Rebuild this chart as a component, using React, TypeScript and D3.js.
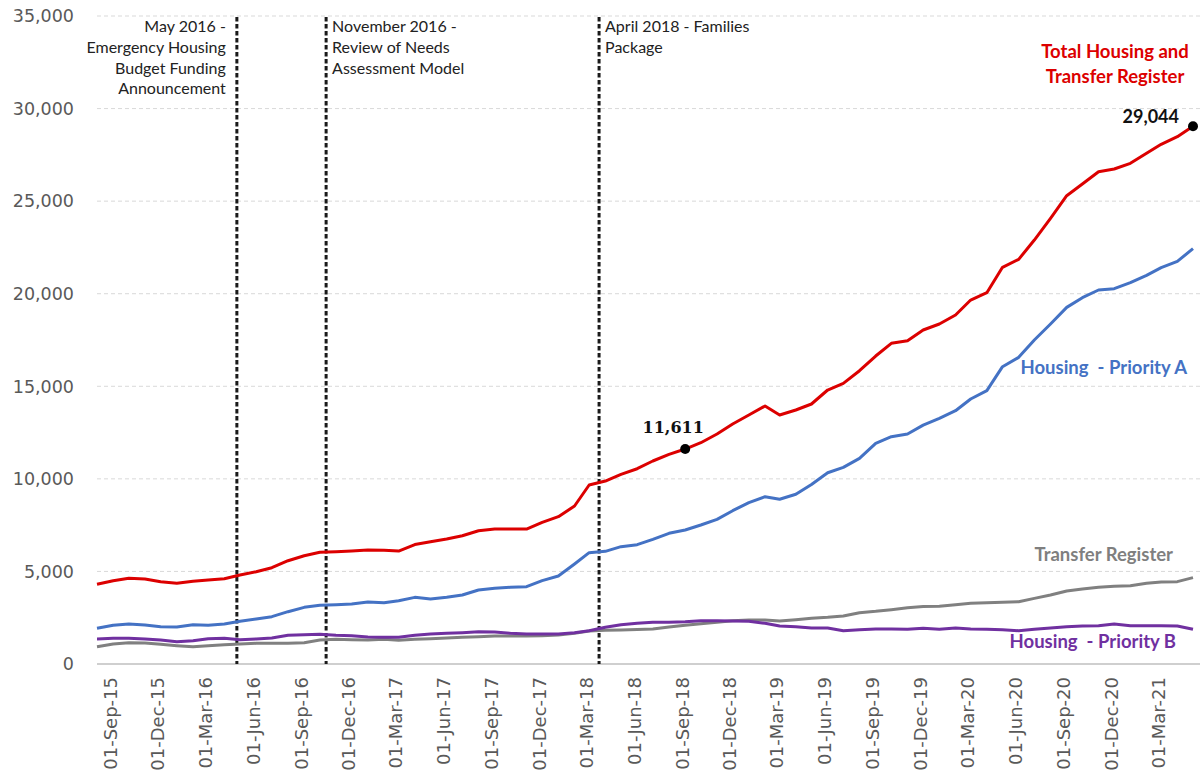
import React from "react";
import * as d3 from "d3";

const W = 1204;
const H = 780;

// monthly observations, Aug 2015 .. May 2021
const firstMonth = new Date(2015, 7, 1);
const lastMonth = new Date(2021, 4, 1);

const totalRegister = [4304, 4500, 4628, 4590, 4446, 4358, 4466, 4537, 4607, 4807, 4985, 5201, 5579, 5849, 6031, 6066, 6102, 6157, 6150, 6100, 6450, 6606, 6751, 6930, 7200, 7291, 7291, 7291, 7653, 7956, 8533, 9668, 9884, 10245, 10548, 10964, 11325, 11611, 11953, 12423, 12963, 13449, 13935, 13449, 13719, 14043, 14799, 15160, 15841, 16635, 17321, 17461, 18039, 18363, 18849, 19659, 20055, 21425, 21857, 22900, 24071, 25293, 25925, 26591, 26735, 27043, 27583, 28069, 28480, 29044];
const priorityA = [1928, 2090, 2160, 2106, 2016, 1998, 2124, 2090, 2160, 2304, 2430, 2556, 2826, 3060, 3168, 3204, 3240, 3348, 3312, 3420, 3600, 3510, 3600, 3727, 3997, 4087, 4141, 4177, 4501, 4753, 5401, 6013, 6085, 6337, 6445, 6734, 7058, 7237, 7507, 7815, 8280, 8712, 9036, 8896, 9166, 9700, 10332, 10622, 11108, 11918, 12275, 12423, 12900, 13268, 13681, 14313, 14763, 16059, 16563, 17500, 18363, 19263, 19785, 20200, 20272, 20596, 20992, 21406, 21749, 22433];
const transferRegister = [935, 1080, 1152, 1134, 1062, 990, 935, 990, 1044, 1080, 1116, 1116, 1116, 1152, 1296, 1332, 1314, 1296, 1332, 1278, 1332, 1368, 1404, 1440, 1476, 1512, 1512, 1512, 1530, 1566, 1656, 1780, 1820, 1840, 1860, 1890, 1998, 2088, 2178, 2250, 2340, 2376, 2376, 2322, 2394, 2466, 2520, 2592, 2772, 2844, 2934, 3042, 3100, 3114, 3204, 3276, 3312, 3330, 3366, 3546, 3727, 3943, 4051, 4141, 4195, 4231, 4357, 4429, 4447, 4663];
const priorityB = [1350, 1386, 1386, 1350, 1296, 1206, 1260, 1368, 1386, 1314, 1350, 1404, 1548, 1584, 1602, 1548, 1530, 1458, 1440, 1440, 1548, 1620, 1656, 1692, 1746, 1728, 1656, 1620, 1620, 1620, 1692, 1800, 1980, 2124, 2196, 2250, 2250, 2286, 2340, 2340, 2322, 2304, 2196, 2052, 2016, 1944, 1944, 1800, 1854, 1890, 1890, 1872, 1926, 1872, 1944, 1890, 1872, 1854, 1800, 1872, 1944, 2016, 2052, 2070, 2160, 2070, 2070, 2070, 2052, 1872];

const yTicks = [0, 5000, 10000, 15000, 20000, 25000, 30000, 35000];
const tickStart = new Date(2015, 8, 1);
const tickEnd = new Date(2021, 3, 1);

const events = [
  { date: new Date(2016, 3, 25), lines: ["May 2016 -", "Emergency Housing", "Budget Funding", "Announcement"], side: "left" },
  { date: new Date(2016, 9, 13), lines: ["November 2016 -", "Review of Needs", "Assessment Model"], side: "right" },
  { date: new Date(2018, 2, 20), lines: ["April 2018 - Families", "Package"], side: "right" },
];

const highlighted = [new Date(2018, 8, 1), new Date(2021, 4, 1)];

export default function App() {
  const months = d3.timeMonth.range(firstMonth, d3.timeMonth.offset(lastMonth, 1));
  const x = d3.scaleTime().domain([firstMonth, lastMonth]).range([97, 1193]);
  const y = d3.scaleLinear().domain([0, 35000]).range([664, 16]);
  const ticks = d3.timeMonth.range(tickStart, d3.timeMonth.offset(tickEnd, 1), 3);
  const fmt = d3.timeFormat("%d-%b-%y");
  const line = d3
    .line<number>()
    .x((_, i) => x(months[i]))
    .y((v) => y(v));

  const series = [
    { values: transferRegister, color: "#808080" },
    { values: priorityB, color: "#7030A0" },
    { values: priorityA, color: "#4472C4" },
    { values: totalRegister, color: "#DC0000" },
  ];

  const idx = (d: Date) => months.findIndex((m) => m.getTime() === d.getTime());
  const p1 = idx(highlighted[0]);
  const p2 = idx(highlighted[1]);

  return (
    <svg width={W} height={H} style={{ position: "absolute", left: 0, top: 0, background: "#fff" }}>
      {/* gridlines */}
      {yTicks.slice(1).map((t) => (
        <line key={t} x1={97} x2={1200} y1={y(t)} y2={y(t)} stroke="#d9d9d9" strokeWidth={1} strokeDasharray="4,3" />
      ))}
      {/* y axis labels */}
      {yTicks.map((t) => (
        <text key={t} x={74} y={y(t)} dy="0.36em" textAnchor="end" fontFamily="DejaVu Sans" fontSize={17.5} fill="#595959">
          {d3.format(",")(t)}
        </text>
      ))}
      {/* x axis */}
      <line x1={97} x2={1200} y1={y(0)} y2={y(0)} stroke="#bfbfbf" strokeWidth={1.5} />
      {ticks.map((t) => (
        <text
          key={t.getTime()}
          transform={`translate(${x(t) - 3},${y(0) + 13}) rotate(-90)`}
          dy="0.36em"
          textAnchor="end"
          fontFamily="DejaVu Sans"
          fontSize={18}
          fill="#595959"
        >
          {fmt(t)}
        </text>
      ))}
      {/* event lines */}
      {events.map((e, k) => {
        const ex = x(e.date);
        return (
          <g key={k}>
            <line x1={ex} x2={ex} y1={17} y2={y(0)} stroke="#1a1a1a" strokeWidth={3} strokeDasharray="4.5,2.5" />
            {e.lines.map((l, j) => (
              <text
                key={j}
                x={e.side === "left" ? ex - 11 : ex + 6}
                y={32 + j * 20.8}
                textAnchor={e.side === "left" ? "end" : "start"}
                fontFamily="Lato"
                fontSize={16}
                fill="#222"
              >
                {l}
              </text>
            ))}
          </g>
        );
      })}
      {/* series */}
      {series.map((s, k) => (
        <path key={k} d={line(s.values) || ""} fill="none" stroke={s.color} strokeWidth={3} strokeLinejoin="round" />
      ))}
      {/* highlighted points */}
      <circle cx={x(months[p1])} cy={y(totalRegister[p1])} r={5} fill="#000" />
      <circle cx={x(months[p2])} cy={y(totalRegister[p2])} r={5} fill="#000" />
      <text x={x(months[p1]) - 12} y={y(totalRegister[p1]) - 16} textAnchor="middle" fontFamily="DejaVu Serif" fontWeight="bold" fontSize={16} fill="#111">
        {d3.format(",")(totalRegister[p1])}
      </text>
      <text x={x(months[p2]) - 14} y={y(totalRegister[p2]) - 3} textAnchor="end" fontFamily="Lato" fontWeight="bold" fontSize={18} fill="#111">
        {d3.format(",")(totalRegister[p2])}
      </text>
      {/* series labels */}
      <text x={1115} y={58} textAnchor="middle" fontFamily="Lato" fontWeight="bold" fontSize={18.5} fill="#DC0000">Total Housing and</text>
      <text x={1115} y={83} textAnchor="middle" fontFamily="Lato" fontWeight="bold" fontSize={18.5} fill="#DC0000">Transfer Register</text>
      <text x={1187} y={374} textAnchor="end" fontFamily="Lato" fontWeight="bold" fontSize={18.5} fill="#4472C4" style={{ whiteSpace: "pre" }}>Housing  - Priority A</text>
      <text x={1173} y={561} textAnchor="end" fontFamily="Lato" fontWeight="bold" fontSize={18.5} fill="#7f7f7f">Transfer Register</text>
      <text x={1176} y={648} textAnchor="end" fontFamily="Lato" fontWeight="bold" fontSize={18.5} fill="#7030A0" style={{ whiteSpace: "pre" }}>Housing  - Priority B</text>
    </svg>
  );
}
